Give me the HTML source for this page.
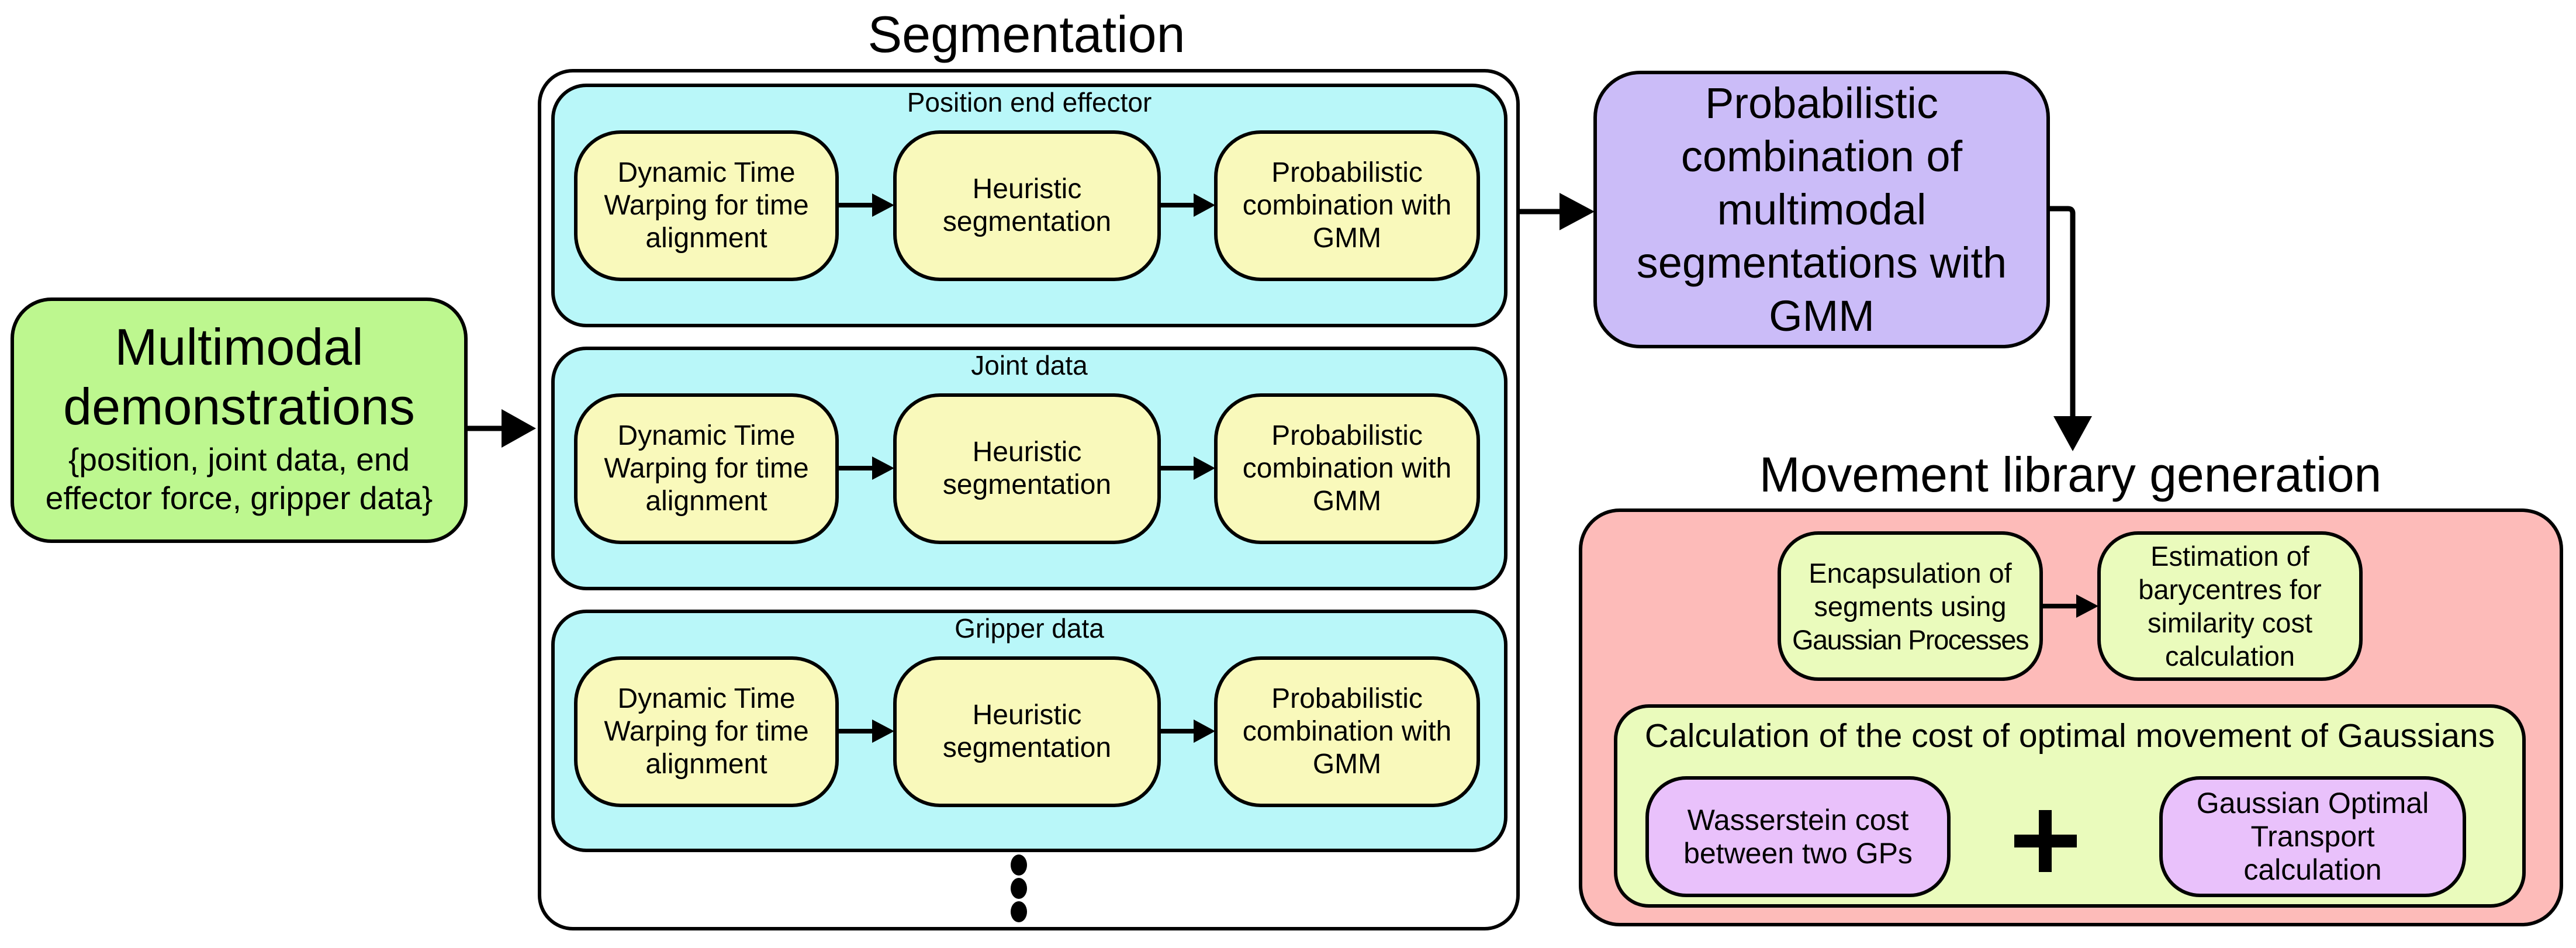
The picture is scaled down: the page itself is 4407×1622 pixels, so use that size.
<!DOCTYPE html>
<html><head><meta charset="utf-8"><style>
*{margin:0;padding:0;box-sizing:border-box}
body{width:4407px;height:1622px;background:#fff;position:relative;overflow:hidden;font-family:"Liberation Sans",sans-serif;color:#000}
.b{position:absolute;border:6px solid #000;display:flex;align-items:center;justify-content:center;text-align:center;white-space:nowrap}
.t{position:absolute;text-align:center;white-space:nowrap}
.y{background:#f9f9bb;border-radius:80px;font-size:48px;line-height:56px}
.c{background:#b9f7f9;border-radius:60px}
.lg{background:#eafbbc;border-radius:70px;font-size:47px;line-height:57px}
.v{background:#e9c1fb;border-radius:70px;font-size:50px;line-height:57px}
svg{position:absolute;left:0;top:0}
</style></head><body>
<div class="t" style="left:1056px;width:1400px;top:8px;font-size:88px">Segmentation</div>
<div class="b" style="left:920px;top:118px;width:1680px;height:1474px;border-radius:60px;background:#fff"></div>

<div class="b c" style="left:943px;top:143px;width:1636px;height:417px"></div>
<div class="t" style="left:1061px;width:1400px;top:148px;font-size:46px">Position end effector</div>
<div class="b c" style="left:943px;top:593px;width:1636px;height:417px"></div>
<div class="t" style="left:1061px;width:1400px;top:598px;font-size:46px">Joint data</div>
<div class="b c" style="left:943px;top:1043px;width:1636px;height:415px"></div>
<div class="t" style="left:1061px;width:1400px;top:1048px;font-size:46px">Gripper data</div>

<div class="b y" style="left:982px;top:223px;width:453px;height:258px">Dynamic Time<br>Warping for time<br>alignment</div>
<div class="b y" style="left:1528px;top:223px;width:458px;height:258px">Heuristic<br>segmentation</div>
<div class="b y" style="left:2077px;top:223px;width:455px;height:258px">Probabilistic<br>combination with<br>GMM</div>
<div class="b y" style="left:982px;top:673px;width:453px;height:258px">Dynamic Time<br>Warping for time<br>alignment</div>
<div class="b y" style="left:1528px;top:673px;width:458px;height:258px">Heuristic<br>segmentation</div>
<div class="b y" style="left:2077px;top:673px;width:455px;height:258px">Probabilistic<br>combination with<br>GMM</div>
<div class="b y" style="left:982px;top:1123px;width:453px;height:258px">Dynamic Time<br>Warping for time<br>alignment</div>
<div class="b y" style="left:1528px;top:1123px;width:458px;height:258px">Heuristic<br>segmentation</div>
<div class="b y" style="left:2077px;top:1123px;width:455px;height:258px">Probabilistic<br>combination with<br>GMM</div>

<div class="b" style="left:18px;top:509px;width:782px;height:420px;border-radius:70px;background:#bdf78f;flex-direction:column">
<div style="font-size:88px;line-height:102px;margin-top:-10px">Multimodal<br>demonstrations</div>
<div style="font-size:55px;line-height:66px;margin-top:6px">{position, joint data, end<br>effector force, gripper data}</div>
</div>

<div class="b" style="left:2726px;top:121px;width:781px;height:475px;border-radius:80px;background:#cbbcf8;font-size:74px;line-height:91px">Probabilistic<br>combination of<br>multimodal<br>segmentations with<br>GMM</div>

<div class="t" style="left:2842px;width:1400px;top:764px;font-size:84px">Movement library generation</div>
<div class="b" style="left:2701px;top:870px;width:1684px;height:715px;border-radius:70px;background:#fdbbb9"></div>
<div class="b lg" style="left:3041px;top:909px;width:454px;height:256px"><div>Encapsulation of<br>segments using<br><span style="letter-spacing:-1.5px">Gaussian Processes</span></div></div>
<div class="b lg" style="left:3588px;top:909px;width:454px;height:256px">Estimation of<br>barycentres for<br>similarity cost<br>calculation</div>
<div class="b lg" style="left:2761px;top:1205px;width:1560px;height:348px;border-radius:60px"></div>
<div class="t" style="left:2761px;width:1560px;top:1226px;font-size:57px">Calculation of the cost of optimal movement of Gaussians</div>
<div class="b v" style="left:2815px;top:1328px;width:522px;height:207px">Wasserstein cost<br>between two GPs</div>
<div class="b v" style="left:3694px;top:1328px;width:525px;height:207px">Gaussian Optimal<br>Transport<br>calculation</div>

<svg width="4407" height="1622" viewBox="0 0 4407 1622">
<g fill="#000" stroke="none">
<rect x="3446" y="1428" width="107" height="22"/><rect x="3488" y="1386" width="22" height="106"/>
<ellipse cx="1743" cy="1480" rx="14" ry="18"/><ellipse cx="1743" cy="1520" rx="14" ry="18"/><ellipse cx="1743" cy="1560" rx="14" ry="18"/>
</g>
<g stroke="#000" stroke-width="9" fill="none">
<line x1="800" y1="733" x2="862" y2="733"/>
<line x1="2600" y1="362" x2="2672" y2="362"/>
<path d="M3507 357 H3538 Q3546 357 3546 365 V716"/>
<g stroke-width="8">
<line x1="1435" y1="351" x2="1494" y2="351"/><line x1="1986" y1="351" x2="2044" y2="351"/>
<line x1="1435" y1="801" x2="1494" y2="801"/><line x1="1986" y1="801" x2="2044" y2="801"/>
<line x1="1435" y1="1251" x2="1494" y2="1251"/><line x1="1986" y1="1251" x2="2044" y2="1251"/>
<line x1="3495" y1="1037" x2="3554" y2="1037"/>
</g>
</g>
<g fill="#000">
<polygon points="858,700 917,733 858,766"/>
<polygon points="2668,330 2728,362 2668,394"/>
<polygon points="3513,712 3579,712 3546,772"/>
<polygon points="1492,331 1530,351 1492,371"/><polygon points="2042,331 2079,351 2042,371"/>
<polygon points="1492,781 1530,801 1492,821"/><polygon points="2042,781 2079,801 2042,821"/>
<polygon points="1492,1231 1530,1251 1492,1271"/><polygon points="2042,1231 2079,1251 2042,1271"/>
<polygon points="3552,1017 3590,1037 3552,1057"/>
</g>
</svg>
</body></html>
